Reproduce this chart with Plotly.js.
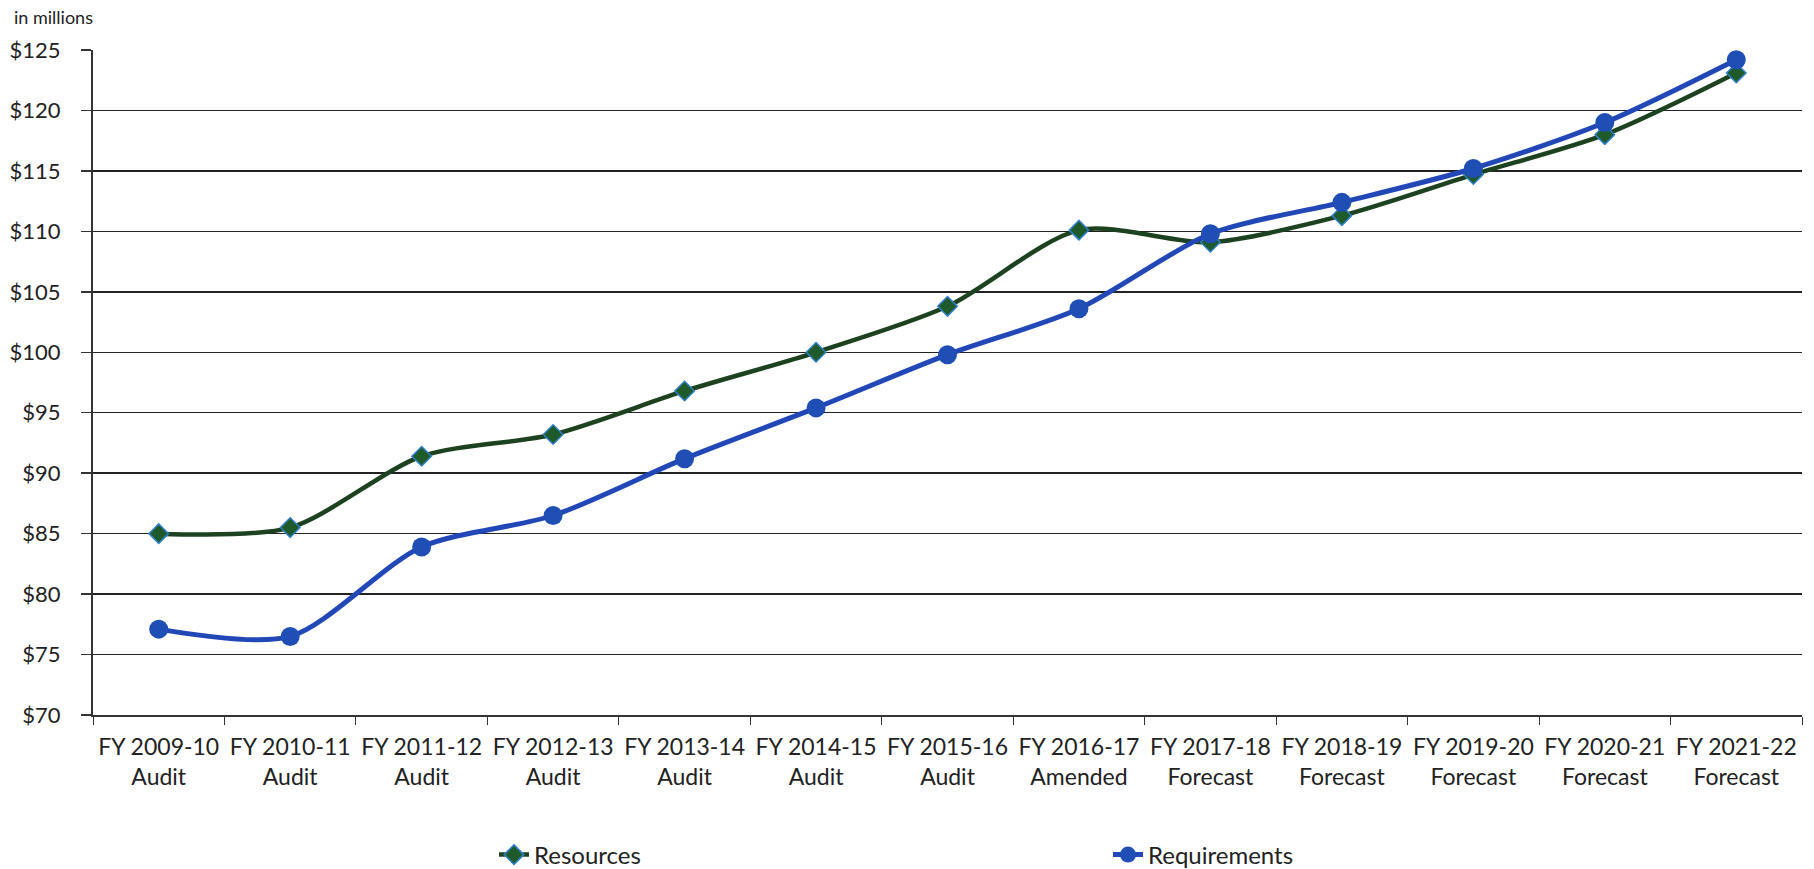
<!DOCTYPE html>
<html>
<head>
<meta charset="utf-8">
<script src="https://cdn.plot.ly/plotly-3.0.1.min.js"></script>
<style>html,body{margin:0;padding:0;background:#fff;}#chart{width:1814px;height:869px;}</style>
</head>
<body>
<div id="chart"></div>
<script>
const categories = [
  "FY 2009-10<br>Audit","FY 2010-11<br>Audit","FY 2011-12<br>Audit","FY 2012-13<br>Audit",
  "FY 2013-14<br>Audit","FY 2014-15<br>Audit","FY 2015-16<br>Audit","FY 2016-17<br>Amended",
  "FY 2017-18<br>Forecast","FY 2018-19<br>Forecast","FY 2019-20<br>Forecast","FY 2020-21<br>Forecast",
  "FY 2021-22<br>Forecast"
];
const resources = [85.0, 85.5, 91.4, 93.2, 96.8, 100.0, 103.8, 110.1, 109.1, 111.3, 114.7, 118.0, 123.1];
const requirements = [77.1, 76.5, 83.9, 86.5, 91.2, 95.4, 99.8, 103.6, 109.8, 112.4, 115.2, 119.0, 124.2];
const yTickVals = [70, 75, 80, 85, 90, 95, 100, 105, 110, 115, 120, 125];
const yTickText = ["$70","$75","$80","$85","$90","$95","$100","$105","$110","$115","$120","$125"];

const FONT = "Lato, 'Open Sans', sans-serif";

const traces = [
  {
    x: categories, y: resources, name: "Resources", type: "scatter", mode: "lines+markers",
    line: {color: "#1c421f", width: 4.5, shape: "spline", smoothing: 0.8},
    marker: {symbol: "diamond", size: 15, color: "#1e5a2a", line: {color: "#2f7fc8", width: 1.5}}
  },
  {
    x: categories, y: requirements, name: "Requirements", type: "scatter", mode: "lines+markers",
    line: {color: "#2248b8", width: 5, shape: "spline", smoothing: 0.8},
    marker: {symbol: "circle", size: 19, color: "#1f4fb5"}
  }
];

const layout = {
  width: 1814, height: 869,
  margin: {l: 93, r: 12, t: 50, b: 154, autoexpand: false},
  paper_bgcolor: "#ffffff", plot_bgcolor: "#ffffff",
  font: {family: FONT, size: 20, color: "#222"},
  showlegend: true,
  legend: {
    orientation: "h", x: (494 - 93) / 1709, xanchor: "left", y: (715 - 855) / 665, yanchor: "middle",
    entrywidth: 569, entrywidthmode: "pixels", font: {family: FONT, size: 24, color: "#222"},
    itemsizing: "trace"
  },
  xaxis: {
    type: "category", tickson: "boundaries", ticks: "outside", ticklen: 8, tickcolor: "#333",
    showline: true, linecolor: "#333", linewidth: 2, showgrid: false, automargin: false,
    tickfont: {family: FONT, size: 23, color: "#222"}, range: [-0.5, 12.5], fixedrange: true,
    ticklabelstandoff: 10
  },
  yaxis: {
    range: [70, 125], tickvals: yTickVals, ticktext: yTickText, automargin: false,
    ticks: "outside", ticklen: 10, tickcolor: "#333", tickwidth: 1.5,
    showline: true, linecolor: "#333", linewidth: 2,
    showgrid: true, gridcolor: "#222", gridwidth: 1.5, zeroline: false,
    tickfont: {family: FONT, size: 22, color: "#222"}, ticklabelstandoff: 16
  },
  annotations: [
    {text: "in millions", xref: "paper", yref: "paper", x: (12 - 93) / 1709, y: (715 - 17) / 665,
     xanchor: "left", yanchor: "middle", showarrow: false, font: {family: FONT, size: 18, color: "#222"}}
  ]
};

Plotly.newPlot("chart", traces, layout, {displayModeBar: false, staticPlot: true});
</script>
</body>
</html>
